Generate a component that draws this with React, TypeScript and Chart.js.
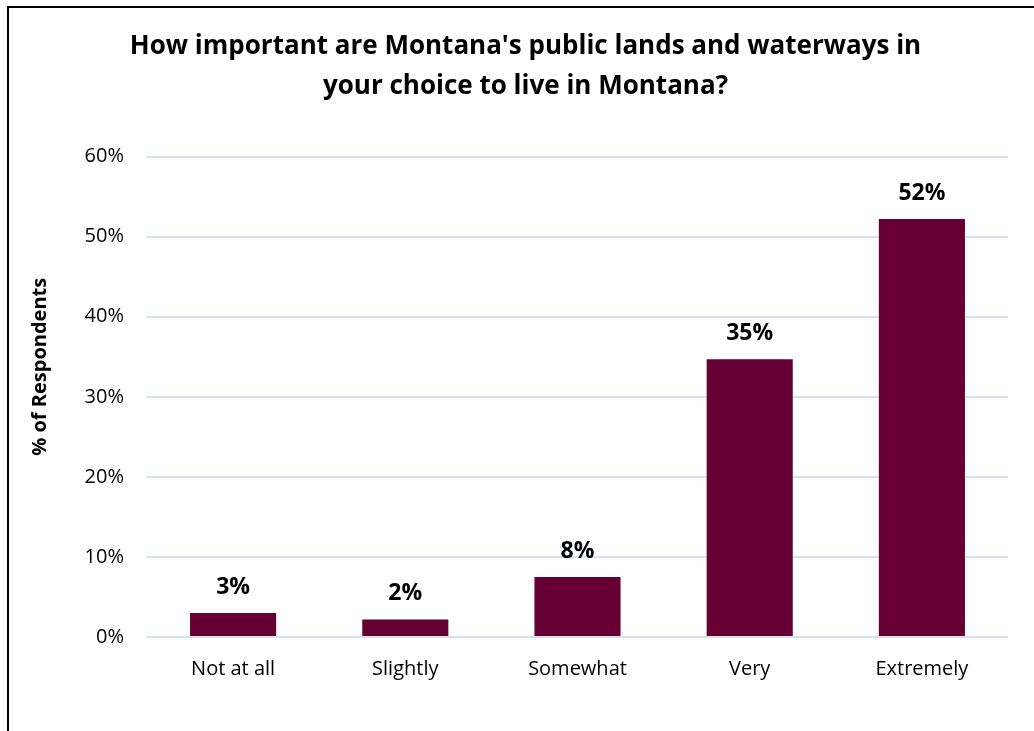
import React, { useEffect, useRef } from "react";
import { Chart, registerables } from "chart.js";

Chart.register(...registerables);

const categories = ["Not at all", "Slightly", "Somewhat", "Very", "Extremely"];
const percentValues = [3.0, 2.2, 7.5, 34.7, 52.2];
const titleLines = [
  "How important are Montana's public lands and waterways in",
  "your choice to live in Montana?",
];
const yAxisTitle = "% of Respondents";
const yMax = 60;
const yStep = 10;

const FONT = "'Open Sans', 'Noto Sans', sans-serif";
const BAR_COLOR = "#660033";
const GRID_COLOR = "#D5E0F3";

const dataLabelPlugin = {
  id: "dataLabels",
  afterDatasetsDraw(chart: any) {
    const { ctx } = chart;
    const meta = chart.getDatasetMeta(0);
    ctx.save();
    ctx.font = `bold 23px ${FONT}`;
    ctx.fillStyle = "#000000";
    ctx.textAlign = "center";
    ctx.textBaseline = "alphabetic";
    meta.data.forEach((bar: any, i: number) => {
      const v = chart.data.datasets[0].data[i] as number;
      ctx.fillText(`${Math.round(v)}%`, bar.x, bar.y - 19);
    });
    ctx.restore();
  },
};

const yTitlePlugin = {
  id: "yTitle",
  afterDraw(chart: any) {
    const { ctx, chartArea } = chart;
    ctx.save();
    ctx.font = `bold 20px ${FONT}`;
    ctx.fillStyle = "#000000";
    ctx.textAlign = "center";
    ctx.textBaseline = "middle";
    ctx.translate(40, (chartArea.top + chartArea.bottom) / 2 - 30);
    ctx.rotate(-Math.PI / 2);
    ctx.fillText(yAxisTitle, 0, 0);
    ctx.restore();
  },
};

export default function App() {
  const canvasRef = useRef<HTMLCanvasElement | null>(null);

  useEffect(() => {
    if (!canvasRef.current) return;
    const chart = new Chart(canvasRef.current, {
      type: "bar",
      data: {
        labels: categories,
        datasets: [
          {
            data: percentValues,
            backgroundColor: BAR_COLOR,
            borderWidth: 0,
            barPercentage: 0.5,
            categoryPercentage: 1,
          },
        ],
      },
      options: {
        animation: false,
        responsive: false,
        maintainAspectRatio: false,
        layout: { padding: { left: 43, right: 26, top: 0, bottom: 0 } },
        plugins: {
          legend: { display: false },
          tooltip: { enabled: false },
          title: {
            display: true,
            text: titleLines,
            color: "#000000",
            font: { family: FONT, size: 26, weight: "bold", lineHeight: 1.55 },
            padding: { top: 26, bottom: 50 },
          },
        },
        scales: {
          x: {
            grid: { display: false, drawTicks: false },
            border: { display: false },
            ticks: {
              color: "#000000",
              font: { family: FONT, size: 20 },
              padding: 20,
              maxRotation: 0,
            },
            afterFit(scale: any) {
              scale.height = 94;
            },
          },
          y: {
            min: 0,
            max: yMax,
            grid: { color: GRID_COLOR, lineWidth: 2, drawTicks: false },
            border: { display: false },
            ticks: {
              stepSize: yStep,
              color: "#000000",
              font: { family: FONT, size: 20 },
              padding: 23,
              callback: (v: any) => `${v}%`,
            },
            afterFit(scale: any) {
              scale.width = 104;
            },
          },
        },
      },
      plugins: [dataLabelPlugin, yTitlePlugin],
    });
    return () => chart.destroy();
  }, []);

  return (
    <div
      style={{
        position: "fixed",
        left: 0,
        top: 0,
        width: 1034,
        height: 731,
        overflow: "hidden",
        background: "#ffffff",
      }}
    >
      <div
        style={{
          position: "absolute",
          left: 7,
          top: 6,
          width: 1100,
          height: 800,
          border: "2px solid #000000",
          boxSizing: "border-box",
        }}
      />
      <canvas
        ref={canvasRef}
        width={1034}
        height={731}
        style={{ position: "absolute", left: 0, top: 0, width: 1034, height: 731 }}
      />
    </div>
  );
}
